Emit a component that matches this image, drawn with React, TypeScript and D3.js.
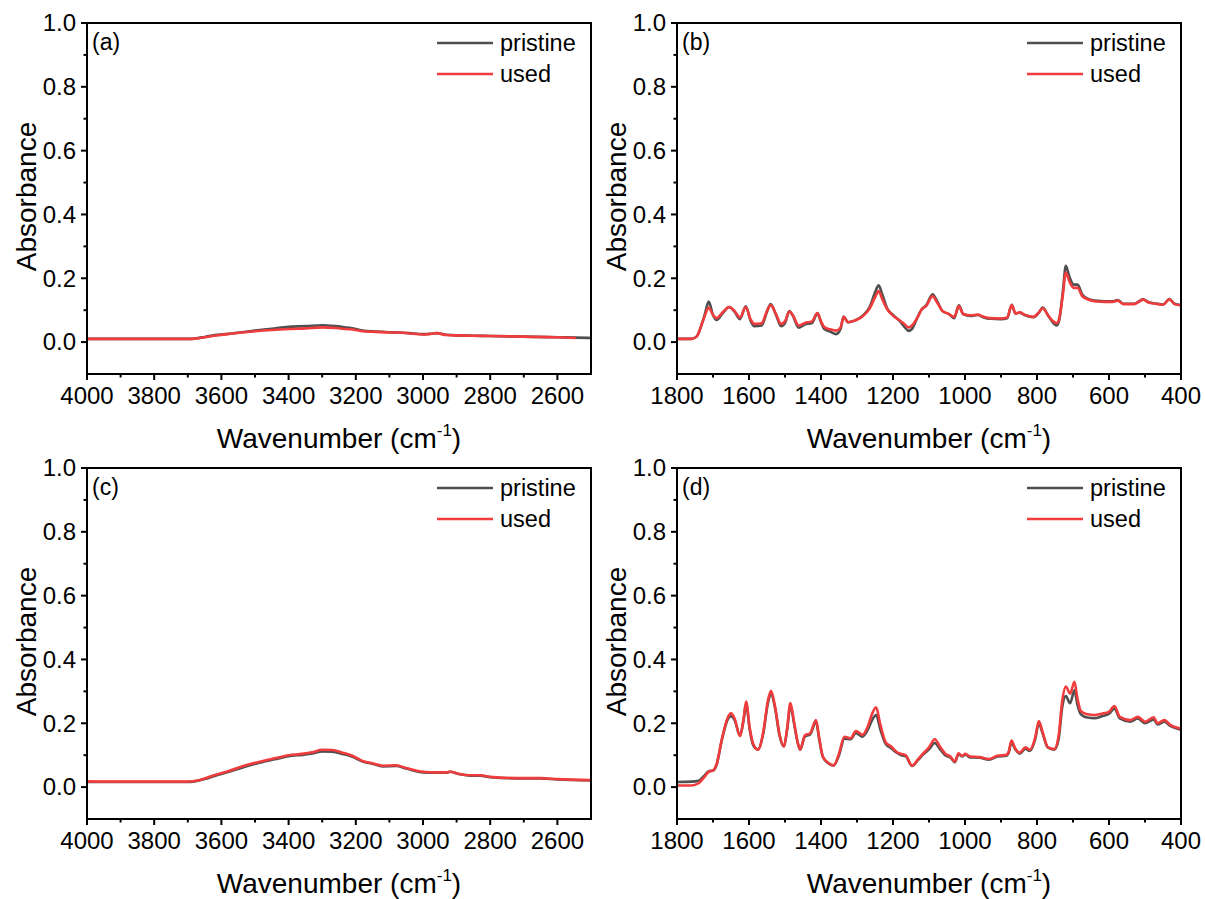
import * as d3 from "d3";
import { useEffect, useRef } from "react";

// (a) high wavenumber region, sample 1
const aWave = [4000, 3900, 3800, 3700, 3680, 3650, 3620, 3580, 3540, 3500, 3450, 3400, 3350, 3300, 3260, 3230, 3200, 3180, 3140, 3100, 3070, 3040, 3000, 2975, 2960, 2930, 2900, 2850, 2800, 2700, 2600, 2545, 2500];
const aPristine = [0.010, 0.010, 0.010, 0.010, 0.011, 0.016, 0.022, 0.026, 0.031, 0.036, 0.042, 0.048, 0.050, 0.053, 0.050, 0.046, 0.041, 0.036, 0.033, 0.031, 0.030, 0.028, 0.025, 0.026, 0.028, 0.023, 0.021, 0.020, 0.019, 0.017, 0.015, 0.014, 0.013];
const aUsed = [0.010, 0.010, 0.010, 0.010, 0.011, 0.015, 0.020, 0.025, 0.030, 0.034, 0.038, 0.041, 0.043, 0.046, 0.044, 0.041, 0.038, 0.034, 0.032, 0.030, 0.030, 0.027, 0.024, 0.026, 0.028, 0.022, 0.021, 0.020, 0.019, 0.017, 0.015, 0.013, null];

// (b) fingerprint region, sample 1
const bWave = [1800, 1760, 1745, 1730, 1722, 1712, 1700, 1690, 1672, 1655, 1640, 1625, 1609, 1595, 1585, 1565, 1550, 1540, 1525, 1511, 1500, 1488, 1478, 1462, 1445, 1425, 1410, 1400, 1390, 1375, 1358, 1346, 1337, 1325, 1305, 1285, 1265, 1250, 1240, 1230, 1216, 1200, 1183, 1170, 1156, 1145, 1133, 1120, 1108, 1090, 1078, 1063, 1045, 1030, 1017, 1005, 985, 965, 950, 930, 900, 883, 870, 860, 848, 835, 810, 795, 784, 770, 755, 745, 738, 728, 720, 710, 698, 687, 675, 661, 640, 610, 590, 576, 560, 530, 505, 490, 470, 450, 432, 418, 400];
const bPristine = [0.010, 0.010, 0.018, 0.060, 0.090, 0.127, 0.085, 0.069, 0.092, 0.110, 0.095, 0.072, 0.112, 0.065, 0.050, 0.052, 0.095, 0.119, 0.085, 0.050, 0.060, 0.097, 0.082, 0.045, 0.055, 0.060, 0.090, 0.062, 0.040, 0.033, 0.025, 0.040, 0.080, 0.062, 0.068, 0.082, 0.110, 0.155, 0.178, 0.150, 0.105, 0.085, 0.068, 0.050, 0.035, 0.045, 0.075, 0.103, 0.115, 0.150, 0.130, 0.098, 0.088, 0.075, 0.115, 0.088, 0.082, 0.085, 0.078, 0.073, 0.072, 0.075, 0.117, 0.090, 0.092, 0.085, 0.078, 0.092, 0.108, 0.085, 0.060, 0.052, 0.070, 0.160, 0.239, 0.205, 0.180, 0.180, 0.150, 0.137, 0.130, 0.128, 0.128, 0.132, 0.120, 0.120, 0.134, 0.125, 0.121, 0.118, 0.135, 0.120, 0.116];
const bUsed = [0.010, 0.010, 0.018, 0.060, 0.085, 0.108, 0.085, 0.075, 0.095, 0.110, 0.097, 0.077, 0.110, 0.070, 0.057, 0.059, 0.098, 0.116, 0.088, 0.057, 0.065, 0.096, 0.084, 0.052, 0.060, 0.065, 0.091, 0.065, 0.046, 0.040, 0.036, 0.045, 0.079, 0.062, 0.068, 0.080, 0.105, 0.140, 0.160, 0.135, 0.103, 0.083, 0.069, 0.058, 0.046, 0.055, 0.075, 0.103, 0.113, 0.144, 0.125, 0.098, 0.088, 0.079, 0.113, 0.088, 0.084, 0.086, 0.080, 0.075, 0.074, 0.077, 0.116, 0.090, 0.093, 0.086, 0.079, 0.093, 0.106, 0.085, 0.065, 0.059, 0.075, 0.150, 0.218, 0.190, 0.170, 0.170, 0.145, 0.135, 0.128, 0.126, 0.126, 0.130, 0.119, 0.119, 0.133, 0.124, 0.120, 0.117, 0.134, 0.119, 0.115];

// (c) high wavenumber region, sample 2
const cWave = [4000, 3900, 3800, 3700, 3680, 3650, 3620, 3580, 3530, 3480, 3430, 3400, 3360, 3330, 3300, 3270, 3240, 3210, 3180, 3150, 3120, 3080, 3050, 3000, 2960, 2930, 2920, 2890, 2860, 2830, 2800, 2700, 2650, 2600, 2500];
const cPristine = [0.016, 0.016, 0.016, 0.016, 0.018, 0.025, 0.035, 0.047, 0.064, 0.078, 0.090, 0.097, 0.101, 0.105, 0.112, 0.111, 0.104, 0.095, 0.080, 0.073, 0.065, 0.066, 0.058, 0.046, 0.045, 0.045, 0.048, 0.040, 0.036, 0.036, 0.031, 0.027, 0.027, 0.024, 0.021];
const cUsed = [0.018, 0.017, 0.017, 0.017, 0.019, 0.027, 0.038, 0.050, 0.068, 0.081, 0.093, 0.100, 0.104, 0.109, 0.117, 0.116, 0.108, 0.098, 0.082, 0.075, 0.067, 0.068, 0.060, 0.048, 0.046, 0.046, 0.048, 0.041, 0.037, 0.037, 0.032, 0.028, 0.028, 0.025, 0.022];

// (d) fingerprint region, sample 2
const dWave = [1800, 1760, 1740, 1725, 1712, 1700, 1690, 1675, 1660, 1650, 1640, 1625, 1615, 1608, 1598, 1588, 1575, 1560, 1548, 1539, 1528, 1515, 1503, 1494, 1485, 1475, 1465, 1458, 1445, 1430, 1414, 1405, 1395, 1380, 1365, 1350, 1335, 1318, 1303, 1285, 1270, 1258, 1247, 1235, 1220, 1205, 1190, 1177, 1165, 1147, 1130, 1118, 1100, 1084, 1070, 1055, 1040, 1028, 1018, 1008, 999, 986, 960, 933, 910, 885, 878, 871, 860, 848, 832, 820, 805, 795, 785, 770, 752, 740, 730, 720, 708, 696, 688, 678, 660, 640, 620, 600, 585, 570, 541, 520, 500, 476, 465, 446, 430, 400];
const dPristine = [0.016, 0.017, 0.020, 0.035, 0.050, 0.052, 0.070, 0.150, 0.210, 0.222, 0.210, 0.162, 0.210, 0.260, 0.180, 0.130, 0.118, 0.170, 0.260, 0.292, 0.250, 0.160, 0.127, 0.180, 0.255, 0.200, 0.140, 0.117, 0.158, 0.165, 0.205, 0.150, 0.095, 0.075, 0.068, 0.100, 0.152, 0.150, 0.170, 0.158, 0.180, 0.210, 0.226, 0.180, 0.135, 0.122, 0.108, 0.100, 0.097, 0.066, 0.085, 0.100, 0.118, 0.138, 0.120, 0.100, 0.092, 0.078, 0.103, 0.096, 0.102, 0.093, 0.092, 0.086, 0.096, 0.098, 0.110, 0.140, 0.118, 0.105, 0.120, 0.113, 0.150, 0.200, 0.170, 0.124, 0.117, 0.150, 0.250, 0.285, 0.263, 0.303, 0.260, 0.228, 0.218, 0.216, 0.222, 0.230, 0.246, 0.215, 0.205, 0.215, 0.200, 0.212, 0.196, 0.205, 0.192, 0.180];
const dUsed = [0.005, 0.005, 0.012, 0.030, 0.048, 0.052, 0.072, 0.152, 0.215, 0.231, 0.215, 0.160, 0.215, 0.268, 0.185, 0.135, 0.117, 0.175, 0.268, 0.302, 0.255, 0.165, 0.127, 0.185, 0.263, 0.205, 0.142, 0.117, 0.162, 0.169, 0.210, 0.155, 0.096, 0.076, 0.068, 0.105, 0.158, 0.153, 0.176, 0.164, 0.190, 0.230, 0.250, 0.195, 0.140, 0.127, 0.110, 0.104, 0.100, 0.067, 0.088, 0.103, 0.125, 0.150, 0.128, 0.105, 0.095, 0.080, 0.106, 0.098, 0.104, 0.096, 0.094, 0.088, 0.098, 0.101, 0.113, 0.146, 0.120, 0.108, 0.125, 0.117, 0.155, 0.207, 0.175, 0.125, 0.119, 0.160, 0.270, 0.315, 0.293, 0.330, 0.280, 0.238, 0.228, 0.226, 0.230, 0.236, 0.254, 0.220, 0.210, 0.220, 0.205, 0.219, 0.200, 0.210, 0.195, 0.184];

const seriesNames = ["pristine", "used"];
const seriesColors = { pristine: "#4f4f4f", used: "#f03c3c" };
const yTickLabels = [0, 0.2, 0.4, 0.6, 0.8, 1.0];
const yMinorTicks = [0.1, 0.3, 0.5, 0.7, 0.9];

const panels = [
  { id: "a", label: "(a)", domain: [4000, 2500], wave: aWave, pristine: aPristine, used: aUsed, left: 87, top: 23 },
  { id: "b", label: "(b)", domain: [1800, 400], wave: bWave, pristine: bPristine, used: bUsed, left: 677, top: 23 },
  { id: "c", label: "(c)", domain: [4000, 2500], wave: cWave, pristine: cPristine, used: cUsed, left: 87, top: 468 },
  { id: "d", label: "(d)", domain: [1800, 400], wave: dWave, pristine: dPristine, used: dUsed, left: 677, top: 468 },
];

const plotWidth = 504;
const plotHeight = 351;
const font = "'Liberation Sans', Arial, Helvetica, sans-serif";

export default function App() {
  const svgRef = useRef(null);

  useEffect(() => {
    const svg = d3.select(svgRef.current);
    svg.selectAll("*").remove();
    panels.forEach((panel) => drawPanel(svg, panel));
  }, []);

  return (
    <div style={{ position: "absolute", left: 0, top: 0 }}>
      <svg ref={svgRef} width={1205} height={899} style={{ display: "block", background: "#fff" }} />
    </div>
  );
}

function drawPanel(svg, panel) {
  const right = panel.left + plotWidth;
  const bottom = panel.top + plotHeight;
  const g = svg.append("g").style("font-family", font);

  const x = d3.scaleLinear().domain(panel.domain).range([panel.left, right]);
  const y = d3.scaleLinear().domain([-0.1, 1.0]).range([bottom, panel.top]);

  const [hi, lo] = panel.domain;
  const xMajor = d3.range(hi, lo - 1, -200);
  const xMinor = d3.range(hi - 100, lo, -200);

  g.append("clipPath")
    .attr("id", `clip-${panel.id}`)
    .append("rect")
    .attr("x", panel.left)
    .attr("y", panel.top)
    .attr("width", plotWidth)
    .attr("height", plotHeight);

  const lines = g.append("g").attr("clip-path", `url(#clip-${panel.id})`);
  seriesNames.forEach((name) => {
    const values = panel[name];
    const line = d3
      .line()
      .defined((i) => values[i] != null)
      .x((i) => x(panel.wave[i]))
      .y((i) => y(values[i]))
      .curve(d3.curveMonotoneX);
    lines
      .append("path")
      .attr("fill", "none")
      .attr("stroke", seriesColors[name])
      .attr("stroke-width", 2.6)
      .attr("stroke-linejoin", "round")
      .attr("d", line(d3.range(panel.wave.length)));
  });

  // frame
  g.append("rect")
    .attr("x", panel.left)
    .attr("y", panel.top)
    .attr("width", plotWidth)
    .attr("height", plotHeight)
    .attr("fill", "none")
    .attr("stroke", "#000")
    .attr("stroke-width", 2);

  // x ticks
  g.selectAll(".xmaj")
    .data(xMajor)
    .join("line")
    .attr("x1", (d) => x(d))
    .attr("x2", (d) => x(d))
    .attr("y1", bottom)
    .attr("y2", bottom + 6)
    .attr("stroke", "#000")
    .attr("stroke-width", 2);
  g.selectAll(".xmin")
    .data(xMinor)
    .join("line")
    .attr("x1", (d) => x(d))
    .attr("x2", (d) => x(d))
    .attr("y1", bottom)
    .attr("y2", bottom + 3.5)
    .attr("stroke", "#000")
    .attr("stroke-width", 2);
  g.selectAll(".xlab")
    .data(xMajor)
    .join("text")
    .attr("x", (d) => x(d))
    .attr("y", bottom + 30)
    .attr("text-anchor", "middle")
    .style("font-size", "24px")
    .text((d) => d);

  // y ticks
  g.selectAll(".ymaj")
    .data(yTickLabels)
    .join("line")
    .attr("x1", panel.left - 6)
    .attr("x2", panel.left)
    .attr("y1", (d) => y(d))
    .attr("y2", (d) => y(d))
    .attr("stroke", "#000")
    .attr("stroke-width", 2);
  g.selectAll(".ymin")
    .data(yMinorTicks)
    .join("line")
    .attr("x1", panel.left - 3.5)
    .attr("x2", panel.left)
    .attr("y1", (d) => y(d))
    .attr("y2", (d) => y(d))
    .attr("stroke", "#000")
    .attr("stroke-width", 2);
  g.selectAll(".ylab")
    .data(yTickLabels)
    .join("text")
    .attr("x", panel.left - 11)
    .attr("y", (d) => y(d))
    .attr("dy", "0.35em")
    .attr("text-anchor", "end")
    .style("font-size", "24px")
    .text((d) => d3.format(".1f")(d));

  // axis titles
  const xTitle = g
    .append("text")
    .attr("x", panel.left + plotWidth / 2)
    .attr("y", bottom + 74)
    .attr("text-anchor", "middle")
    .style("font-size", "28px");
  xTitle.append("tspan").text("Wavenumber (cm");
  xTitle.append("tspan").attr("dy", -12).style("font-size", "17px").text("-1");
  xTitle.append("tspan").attr("dy", 12).text(")");

  g.append("text")
    .attr("transform", `translate(${panel.left - 51}, ${panel.top + plotHeight / 2 - 2}) rotate(-90)`)
    .attr("text-anchor", "middle")
    .style("font-size", "28px")
    .text("Absorbance");

  // panel label
  g.append("text")
    .attr("x", panel.left + 5)
    .attr("y", panel.top + 27)
    .style("font-size", "23px")
    .text(panel.label);

  // legend
  seriesNames.forEach((name, i) => {
    const ly = panel.top + 20 + i * 31;
    g.append("line")
      .attr("x1", panel.left + 350)
      .attr("x2", panel.left + 406)
      .attr("y1", ly)
      .attr("y2", ly)
      .attr("stroke", seriesColors[name])
      .attr("stroke-width", 2.6);
    g.append("text")
      .attr("x", panel.left + 413)
      .attr("y", ly)
      .attr("dy", "0.35em")
      .style("font-size", "23.5px")
      .text(name);
  });
}
